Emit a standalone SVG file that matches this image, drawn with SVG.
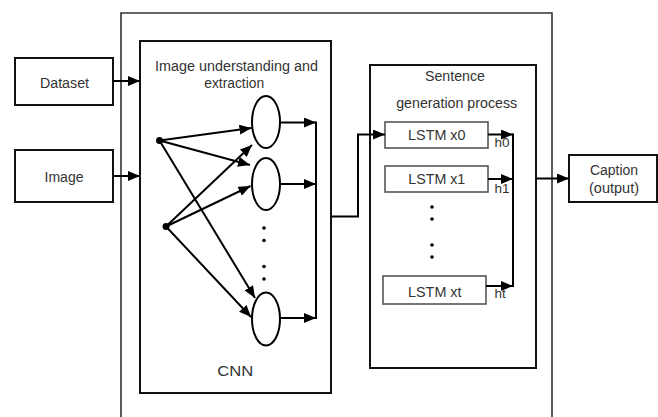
<svg xmlns="http://www.w3.org/2000/svg" width="658" height="417" viewBox="0 0 658 417">
<defs>
<marker id="ah" markerUnits="userSpaceOnUse" markerWidth="12" markerHeight="10" refX="12" refY="5" orient="auto">
<path d="M0,0 L12,5 L0,10 z" fill="#000"/>
</marker>
<style>
.box{fill:#fff;stroke:#111;stroke-width:2}
.lbox{fill:#fff;stroke:#555;stroke-width:1.6}
.t{font-family:"Liberation Sans",Arial,sans-serif;font-size:15.5px;fill:#333;text-anchor:middle}
.h{font-family:"Liberation Sans",Arial,sans-serif;font-size:13.5px;fill:#333}
.c{fill:none;stroke:#000;stroke-width:2}
.dot{fill:#000}
</style>
</defs>
<rect width="658" height="417" fill="#fff"/>
<g id="outer"><path d="M121,417 L121,13 L552,13 L552,417" fill="none" stroke="#333" stroke-width="1.6"/></g>
<g id="dataset"><rect class="box" x="15" y="58" width="98" height="47"/><text class="t" x="64.5" y="87.5" textLength="49" lengthAdjust="spacingAndGlyphs">Dataset</text></g>
<g id="image"><rect class="box" x="15" y="150" width="98" height="52"/><text class="t" x="64" y="181.5" textLength="39" lengthAdjust="spacingAndGlyphs">Image</text></g>
<g id="cnn"><rect class="box" x="140" y="41" width="191" height="352"/>
<text class="t" x="236.5" y="70.7" textLength="163" lengthAdjust="spacingAndGlyphs">Image understanding and</text>
<text class="t" x="234.2" y="87.5" textLength="60" lengthAdjust="spacingAndGlyphs">extraction</text>
<text class="t" x="235.3" y="375.7" textLength="36" lengthAdjust="spacingAndGlyphs">CNN</text></g>
<g id="n1"><ellipse cx="266" cy="122" rx="14" ry="26" fill="#fff" stroke="#000" stroke-width="2"/></g>
<g id="n2"><ellipse cx="266" cy="184" rx="14" ry="26" fill="#fff" stroke="#000" stroke-width="2"/></g>
<g id="n3"><ellipse cx="266" cy="319" rx="14" ry="26.5" fill="#fff" stroke="#000" stroke-width="2"/></g>
<g id="ndots"><circle class="dot" cx="264" cy="228" r="1.8"/><circle class="dot" cx="264" cy="240.5" r="1.8"/><circle class="dot" cx="264" cy="266.5" r="1.8"/><circle class="dot" cx="264" cy="279" r="1.8"/></g>
<g id="src1"><circle class="dot" cx="159.5" cy="140.5" r="3.5"/></g>
<g id="src2"><circle class="dot" cx="166" cy="226.5" r="3.5"/></g>
<g id="sentence"><rect class="box" x="370" y="65" width="166" height="303"/>
<text class="t" x="455" y="81" textLength="60" lengthAdjust="spacingAndGlyphs">Sentence</text>
<text class="t" x="456.7" y="108" textLength="121" lengthAdjust="spacingAndGlyphs">generation process</text></g>
<g id="lstm0"><rect class="lbox" x="385" y="122" width="103" height="26"/><text class="t" x="436.8" y="140" textLength="57.5" lengthAdjust="spacingAndGlyphs">LSTM x0</text></g>
<g id="lstm1"><rect class="lbox" x="385" y="166" width="103" height="26"/><text class="t" x="436.8" y="183.5" textLength="57" lengthAdjust="spacingAndGlyphs">LSTM x1</text></g>
<g id="lstmt"><rect class="lbox" x="383" y="276" width="103" height="28"/><text class="t" x="434.8" y="296.7" textLength="53.5" lengthAdjust="spacingAndGlyphs">LSTM xt</text></g>
<g id="sdots"><circle class="dot" cx="432" cy="207" r="1.8"/><circle class="dot" cx="432" cy="219" r="1.8"/><circle class="dot" cx="432" cy="245" r="1.8"/><circle class="dot" cx="432" cy="257" r="1.8"/></g>
<g id="caption"><rect class="box" x="569" y="155" width="88" height="47"/><text class="t" x="614" y="175" textLength="48" lengthAdjust="spacingAndGlyphs">Caption</text><text class="t" x="614" y="192.5" textLength="50" lengthAdjust="spacingAndGlyphs">(output)</text></g>
<g id="connectors">
<line class="c" x1="113" y1="81" x2="140" y2="81" marker-end="url(#ah)"/>
<line class="c" x1="113" y1="176" x2="140" y2="176" marker-end="url(#ah)"/>
<line class="c" x1="159.5" y1="140.5" x2="251.5" y2="128" marker-end="url(#ah)"/>
<line class="c" x1="159.5" y1="140.5" x2="250" y2="165" marker-end="url(#ah)"/>
<line class="c" x1="159.5" y1="140.5" x2="255" y2="298" marker-end="url(#ah)"/>
<line class="c" x1="166" y1="226.5" x2="252" y2="145" marker-end="url(#ah)"/>
<line class="c" x1="166" y1="226.5" x2="250.5" y2="186" marker-end="url(#ah)"/>
<line class="c" x1="166" y1="226.5" x2="251" y2="317" marker-end="url(#ah)"/>
<line class="c" x1="280" y1="122.5" x2="316" y2="122.5" marker-end="url(#ah)"/>
<line class="c" x1="280" y1="184" x2="316" y2="184" marker-end="url(#ah)"/>
<line class="c" x1="280" y1="318" x2="316" y2="318" marker-end="url(#ah)"/>
<line class="c" x1="316" y1="121.5" x2="316" y2="319"/>
<path class="c" d="M331,216.5 L358,216.5 L358,134.5 L385,134.5" marker-end="url(#ah)"/>
<line class="c" x1="488" y1="134.5" x2="513" y2="134.5" marker-end="url(#ah)"/>
<line class="c" x1="488" y1="179" x2="513" y2="179" marker-end="url(#ah)"/>
<line class="c" x1="486" y1="286" x2="513" y2="286" marker-end="url(#ah)"/>
<line class="c" x1="513" y1="133.5" x2="513" y2="287"/>
<line class="c" x1="536" y1="178.5" x2="569" y2="178.5" marker-end="url(#ah)"/>
</g>
<g id="hlabels"><text class="h" x="494.5" y="147">h0</text><text class="h" x="494.5" y="193">h1</text><text class="h" x="494.5" y="298">ht</text></g>
</svg>
